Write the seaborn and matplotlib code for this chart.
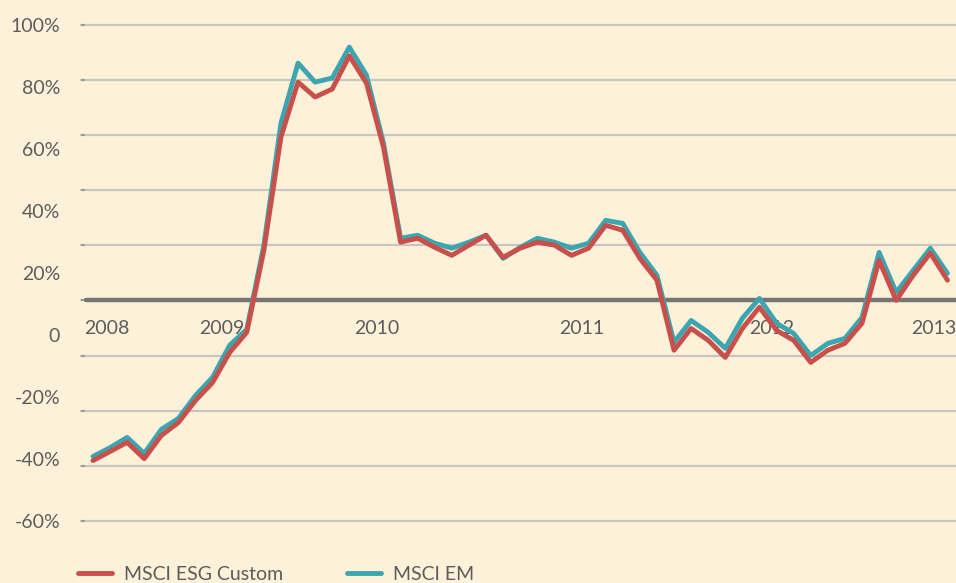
import numpy as np
import pandas as pd
import seaborn as sns
import matplotlib.pyplot as plt

# rolling returns, %
esg = [-58.1, -54.8, -51.5, -57.4, -49.0, -44.3, -36.3, -29.8, -18.9, -11.6,
       18.1, 59.2, 79.1, 73.7, 76.6, 88.6, 78.8, 55.5, 21.1, 22.5,
       19.2, 16.3, 20.0, 23.6, 15.6, 18.9, 21.1, 20.0, 16.3, 18.9,
       27.2, 25.4, 15.2, 7.3, -18.1, -10.2, -14.5, -20.7, -10.2, -2.5,
       -10.9, -14.5, -22.5, -18.1, -15.6, -8.3, 14.5, 0.0, 9.1, 17.1, 7.3]
em = [-56.6, -53.4, -49.7, -55.5, -46.8, -42.8, -34.5, -27.9, -16.3, -10.5,
      20.0, 64.2, 86.0, 79.1, 80.6, 91.8, 81.7, 57.0, 22.5, 23.6,
      20.7, 18.9, 21.1, 23.6, 15.2, 19.2, 22.5, 21.1, 18.9, 20.7,
      29.0, 27.9, 17.4, 9.1, -15.2, -7.3, -11.6, -17.4, -6.5, 0.7,
      -8.3, -12.0, -20.0, -15.6, -13.8, -6.2, 17.4, 2.9, 10.9, 18.9, 9.8]

ESG = "MSCI ESG Custom"
EM = "MSCI EM"

years = ["2008", "2009", "2010", "2011", "2012", "2013"]
year_pos = [0.8, 7.55, 16.6, 28.6, 39.7, 49.2]

grid_vals = [-80, -60, -40, -20, 0, 20, 40, 60, 80, 100]
label_vals = [-60, -40, -20, 0, 20, 40, 60, 80, 100]
label_txt = ["-60%", "-40%", "-20%", "0", "20%", "40%", "60%", "80%", "100%"]

n = len(esg)
df = pd.DataFrame({
    "month": list(range(n)) * 2,
    "value": esg + em,
    "series": [ESG] * n + [EM] * n,
})

bg = "#FEF1DA"
red = "#C9504A"
teal = "#3BA6B0"
txt = "#5C5C5C"

sns.set_theme(style="white", rc={"axes.facecolor": bg, "figure.facecolor": bg})
plt.rcParams["font.family"] = ["Lato", "DejaVu Sans"]

fig = plt.figure(figsize=(9.56, 5.83), dpi=100)
ax = fig.add_axes([81 / 956, 1 - 521 / 583, 875 / 956, 496.5 / 583])

sns.lineplot(data=df, x="month", y="value", hue="series", hue_order=[EM, ESG],
             palette={ESG: red, EM: teal}, linewidth=3.5, ax=ax)

ax.set_xlim(-0.7, 50.5)
ax.set_ylim(-80, 100)
ax.set_yticks(grid_vals)
ax.tick_params(axis="y", labelleft=False, left=True, direction="in",
               length=3, width=1.5, color="#9e9b97")
ax.grid(axis="y", color="#C9C5C0", linewidth=1.6)
ax.set_axisbelow(True)
for gl in ax.get_ygridlines():
    gl.set_clip_on(False)
ax.axhline(0, xmin=5 / 875, color="#767574", linewidth=3.2, zorder=1)

for s in ax.spines.values():
    s.set_visible(False)
ax.spines["bottom"].set_position(("data", 0))
ax.set_xticks(year_pos, years)
ax.tick_params(axis="x", length=0, pad=14, labelsize=14, labelcolor=txt)
ax.set_xlabel("")
ax.set_ylabel("")

# y labels sit on their own scale
ax2 = ax.twinx()
ax2.set_ylim(-60, 100)
ax2.set_yticks(label_vals, label_txt)
ax2.yaxis.set_ticks_position("left")
ax2.tick_params(axis="y", length=0, pad=15, labelsize=14, labelcolor=txt)
ax2.grid(False)
for s in ax2.spines.values():
    s.set_visible(False)

handles, labels = ax.get_legend_handles_labels()
ax.get_legend().remove()
fig.legend(handles[::-1], labels[::-1], loc="lower left",
           bbox_to_anchor=(78 / 956, 0.0), ncol=2, frameon=False,
           fontsize=14, handlelength=1.75, handletextpad=0.6,
           columnspacing=3.3, borderpad=0, borderaxespad=0, labelcolor=txt)

fig.savefig("out.png", dpi=100, facecolor=bg)
